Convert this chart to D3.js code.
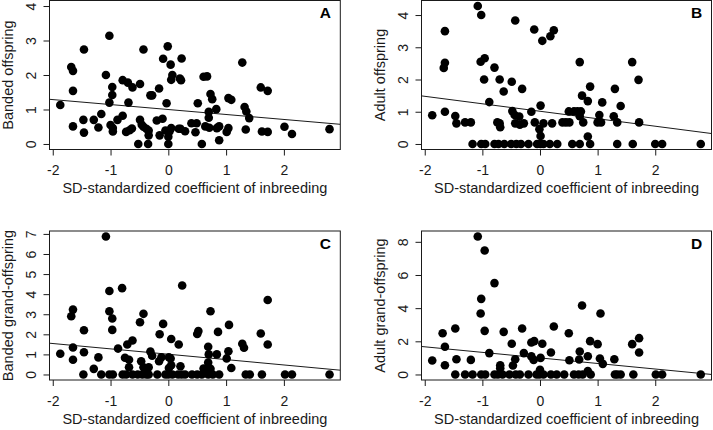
<!DOCTYPE html>
<html><head><meta charset="utf-8">
<script src="https://cdn.jsdelivr.net/npm/d3@7"></script>
<style>body{margin:0;background:#fff} svg{display:block}</style>
</head><body><svg id="c" width="713" height="430"></svg>
<script>
// ---------------- data ----------------
const panelLetters = ["A", "B", "C", "D"];
const yTitles = ["Banded offspring", "Adult offspring", "Banded grand-offspring", "Adult grand-offspring"];
const xTitle = "SD-standardized coefficient of inbreeding";
const xTicks = [-2, -1, 0, 1, 2];
const yTicksA = [0, 1, 2, 3, 4];
const yTicksB = [0, 1, 2, 3, 4];
const yTicksC = [0, 1, 2, 3, 4, 5, 6, 7];
const yTicksD = [0, 2, 4, 6, 8];
const xLimits = [-1.87, 2.79];
const yLimitsA = [0, 4];
const yLimitsB = [0, 4.28];
const yLimitsC = [0, 6.87];
const yLimitsD = [0, 8.32];
const intercepts = [0.999, 1.015, 1.008, 0.999];
const slopes = [-0.144, -0.232, -0.267, -0.335];

const xA = [-1.87,-1.68,-1.65,-1.65,-1.65,-1.46,-1.47,-1.46,-1.29,-1.21,-1.16,-1.08,-1.02,-1.02,-1.0,-0.97,-0.97,-0.96,-0.96,-0.88,-0.79,-0.79,-0.73,-0.70,-0.69,-0.67,-0.63,-0.62,-0.52,-0.49,-0.49,-0.46,-0.43,-0.43,-0.38,-0.35,-0.34,-0.34,-0.31,-0.28,-0.20,-0.16,-0.15,-0.10,-0.09,-0.03,-0.05,-0.01,0.0,0.0,0.02,0.04,0.05,0.07,0.05,0.18,0.20,0.23,0.22,0.21,0.29,0.40,0.49,0.47,0.51,0.58,0.61,0.67,0.64,0.70,0.70,0.71,0.73,0.76,0.83,0.84,0.88,0.88,1.01,1.04,1.04,1.09,1.28,1.32,1.35,1.34,1.40,1.60,1.62,1.72,1.72,2.01,2.14,2.79];
const yA = [1.13,2.23,2.12,1.54,0.51,2.74,0.70,0.33,0.70,0.48,0.87,2.0,3.14,1.20,0.55,1.65,1.42,0.46,0.36,0.70,1.85,0.82,0.35,1.78,1.20,0.40,0.45,1.64,0,1.74,0.70,0.56,2.74,0.50,0.44,0,0.39,0.25,1.41,1.41,0.68,1.61,0.25,0.73,2.47,1.18,0.39,2.83,0,0.21,0.36,2.3,1.86,2.0,0.46,0.44,1.9,2.48,1.85,0.44,0.37,0.60,0.60,0.34,1.18,0,1.95,1.96,0.51,0.93,0.76,0.47,1.45,1.30,1.01,0.46,0.11,0.51,0.35,0.46,1.33,1.28,2.36,1.07,0.94,0.42,0.75,1.64,0.36,1.54,0.35,0.50,0.29,0.43];

const xB = [-1.87,-1.67,-1.65,-1.65,-1.65,-1.47,-1.45,-1.30,-1.20,-1.17,-1.08,-1.02,-1.03,-0.96,-0.97,-1.02,-0.95,-0.88,-0.79,-0.79,-0.74,-0.70,-0.70,-0.69,-0.72,-0.63,-0.62,-0.49,-0.50,-0.48,-0.43,-0.44,-0.43,-0.41,-0.36,-0.35,-0.33,-0.31,-0.28,-0.20,-0.15,-0.10,-0.09,-0.05,0.01,-0.01,0.01,0.01,0.04,0.06,0.06,0.18,0.24,0.21,0.17,0.30,0.39,0.45,0.50,0.51,0.56,0.59,0.65,0.69,0.69,0.69,0.71,0.73,0.75,0.83,0.83,0.87,0.87,1.03,1.00,1.06,1.08,1.30,1.28,1.34,1.34,1.40,1.60,1.61,1.71,1.72,2.00,2.12,2.79];
const yB = [0.89,2.36,2.52,3.50,1.0,0.87,0.64,0.67,0.67,0,4.28,4.0,2.55,2.66,2.0,0,0,1.30,2.37,0,0.67,2.0,0.64,0.52,0,1.63,0,1.93,0,1.02,3.83,0.90,0.64,0,0.85,0.60,0,1.71,0.64,0,1.0,3.55,0.67,0,1.19,0.46,0.25,0,3.20,0.64,0,3.34,3.53,0.64,0,0,0.67,0.67,1.01,0.67,0,1.01,1.01,2.54,0.86,0,1.01,1.50,0.67,1.33,0.23,1.78,0,0.90,0.67,0.67,1.29,1.71,0.86,0,0.67,1.18,2.54,0,1.99,0.67,0,0,0];

const xC = [-1.87,-1.68,-1.65,-1.65,-1.65,-1.46,-1.46,-1.47,-1.29,-1.21,-1.16,-1.08,-1.02,-1.02,-1.02,-0.97,-0.97,-0.96,-0.87,-0.80,-0.79,-0.75,-0.71,-0.68,-0.68,-0.73,-0.62,-0.62,-0.53,-0.49,-0.47,-0.45,-0.43,-0.43,-0.38,-0.34,-0.34,-0.31,-0.28,-0.19,-0.16,-0.15,-0.12,-0.09,-0.05,0.01,0.01,0.0,0.05,0.04,0.05,0.07,0.18,0.21,0.24,0.17,0.23,0.29,0.41,0.50,0.50,0.52,0.58,0.61,0.67,0.69,0.70,0.69,0.69,0.73,0.73,0.77,0.84,0.86,0.88,1.01,1.04,1.05,1.09,1.28,1.31,1.34,1.41,1.60,1.62,1.72,1.72,2.02,2.14,2.79];
const yC = [1.03,2.9,3.23,1.34,0.73,2.2,1.11,0,0.28,0.85,0,6.87,4.16,3.15,0,2.79,2.22,0,1.29,4.3,0,0.83,1.49,0.73,0.36,0,1.69,0,0,2.6,0.66,0,3.02,0.36,0,0.36,0,1.14,0.93,0,0.66,2.0,0.86,2.52,0,0.86,0.32,0,1.77,0.8,0.46,0,1.49,0.41,4.43,0,0,0,0,0,2.02,2.16,0,0.30,0.30,1.38,1.0,0.6,0,3.15,0.28,0,1.0,2.12,0,0.80,1.16,2.47,0.32,1.53,1.33,0,0,2.04,0,3.71,1.49,0,0,0];

const xD = [-1.87,-1.69,-1.65,-1.65,-1.47,-1.45,-1.47,-1.30,-1.20,-1.17,-1.08,-0.96,-1.02,-1.03,-0.96,-1.02,-0.95,-0.88,-0.79,-0.79,-0.73,-0.69,-0.69,-0.63,-0.65,-0.53,-0.49,-0.47,-0.43,-0.42,-0.35,-0.31,-0.28,-0.20,-0.15,-0.15,-0.10,-0.11,-0.06,0.01,0.0,-0.01,0.04,0.06,0.19,0.24,0.19,0.29,0.42,0.50,0.51,0.59,0.67,0.69,0.68,0.73,0.74,0.83,0.83,0.87,0.88,1.0,1.05,1.04,1.09,1.29,1.30,1.34,1.40,1.60,1.62,1.72,1.72,2.01,2.12,2.79];
const yD = [0.84,2.49,1.67,0.56,2.77,0.92,0,0,0.88,0,8.32,7.48,4.56,3.68,2.63,0,0,1.29,5.51,0,0,0.56,0.38,2.57,0,0,1.85,0.54,0.92,0,0,2.77,1.29,0,1.93,1.09,2.01,0.88,0,1.0,0.28,0,1.85,0,1.33,2.89,0,0,0,2.49,0.86,0,0,1.39,0.9,4.16,0,1.1,0.2,2.01,0,1.83,3.68,0.96,0.64,0.92,0,0,0,1.83,0,2.19,1.33,0,0,0];

// ---------------- layout ----------------
const panels = [
  {xs: xA, ys: yA, yl: yLimitsA, yt: yTicksA, left: 49.5,  right: 340.3, top: 0.5, bottom: 149.5},
  {xs: xB, ys: yB, yl: yLimitsB, yt: yTicksB, left: 421.5, right: 711.5, top: 0.5, bottom: 149.5},
  {xs: xC, ys: yC, yl: yLimitsC, yt: yTicksC, left: 49.5,  right: 340.3, top: 231, bottom: 380},
  {xs: xD, ys: yD, yl: yLimitsD, yt: yTicksD, left: 421.5, right: 711.5, top: 231, bottom: 380}
];
const ext = l => { const d = (l[1] - l[0]) * 0.04; return [l[0] - d, l[1] + d]; };
const font = "'Liberation Sans', Arial, sans-serif";
const svg = d3.select("#c");
const ink = "#1a1a1a";

panels.forEach((p, i) => {
  const x = d3.scaleLinear().domain(ext(xLimits)).range([p.left, p.right]);
  const y = d3.scaleLinear().domain(ext(p.yl)).range([p.bottom, p.top]);
  const g = svg.append("g");

  const cid = "clip" + i;
  svg.append("clipPath").attr("id", cid).append("rect")
    .attr("x", p.left).attr("y", p.top).attr("width", p.right - p.left).attr("height", p.bottom - p.top);

  // x axis
  const xa = g.append("g").attr("transform", `translate(0,${p.bottom})`)
    .call(d3.axisBottom(x).tickValues(xTicks).tickSize(6).tickFormat(d3.format("d")));
  xa.select(".domain").remove();
  xa.selectAll("line").attr("stroke", ink);
  xa.selectAll("text").attr("font-family", font).attr("font-size", 14).attr("fill", ink)
    .attr("dy", null).attr("y", 25.5)
    .text(d => d < 0 ? "-" + Math.abs(d) : d);

  // y axis
  const ya = g.append("g").attr("transform", `translate(${p.left},0)`)
    .call(d3.axisLeft(y).tickValues(p.yt).tickSize(6).tickFormat(d3.format("d")));
  ya.select(".domain").remove();
  ya.selectAll("line").attr("stroke", ink);
  ya.selectAll("text").attr("font-family", font).attr("font-size", 14).attr("fill", ink)
    .attr("text-anchor", "middle").attr("dy", null).attr("x", null)
    .attr("transform", "translate(-13.5,0) rotate(-90)");

  // box
  g.append("rect").attr("x", p.left).attr("y", p.top)
    .attr("width", p.right - p.left).attr("height", p.bottom - p.top)
    .attr("fill", "none").attr("stroke", ink).attr("stroke-width", 1);

  // regression line
  const xd = x.domain();
  g.append("line").attr("clip-path", `url(#${cid})`)
    .attr("x1", x(xd[0])).attr("y1", y(intercepts[i] + slopes[i] * xd[0]))
    .attr("x2", x(xd[1])).attr("y2", y(intercepts[i] + slopes[i] * xd[1]))
    .attr("stroke", ink).attr("stroke-width", 1);

  // points
  g.append("g").selectAll("circle").data(p.xs.map((v, k) => [v, p.ys[k]])).join("circle")
    .attr("cx", d => x(d[0])).attr("cy", d => y(d[1])).attr("r", 4.3).attr("fill", "#000");

  // titles
  g.append("text").attr("x", (p.left + p.right) / 2).attr("y", p.bottom + 43.5)
    .attr("text-anchor", "middle").attr("font-family", font).attr("font-size", 14.5).attr("fill", ink)
    .text(xTitle);
  g.append("text").attr("transform", `translate(${p.left - 37},${(p.top + p.bottom) / 2}) rotate(-90)`)
    .attr("text-anchor", "middle").attr("font-family", font).attr("font-size", 14.5).attr("fill", ink)
    .text(yTitles[i]);
  g.append("text").attr("x", p.right - 15).attr("y", p.top + 17.5)
    .attr("text-anchor", "middle").attr("font-family", font).attr("font-size", 15.5).attr("font-weight", "bold")
    .attr("fill", "#000").text(panelLetters[i]);
});
</script></body></html>
